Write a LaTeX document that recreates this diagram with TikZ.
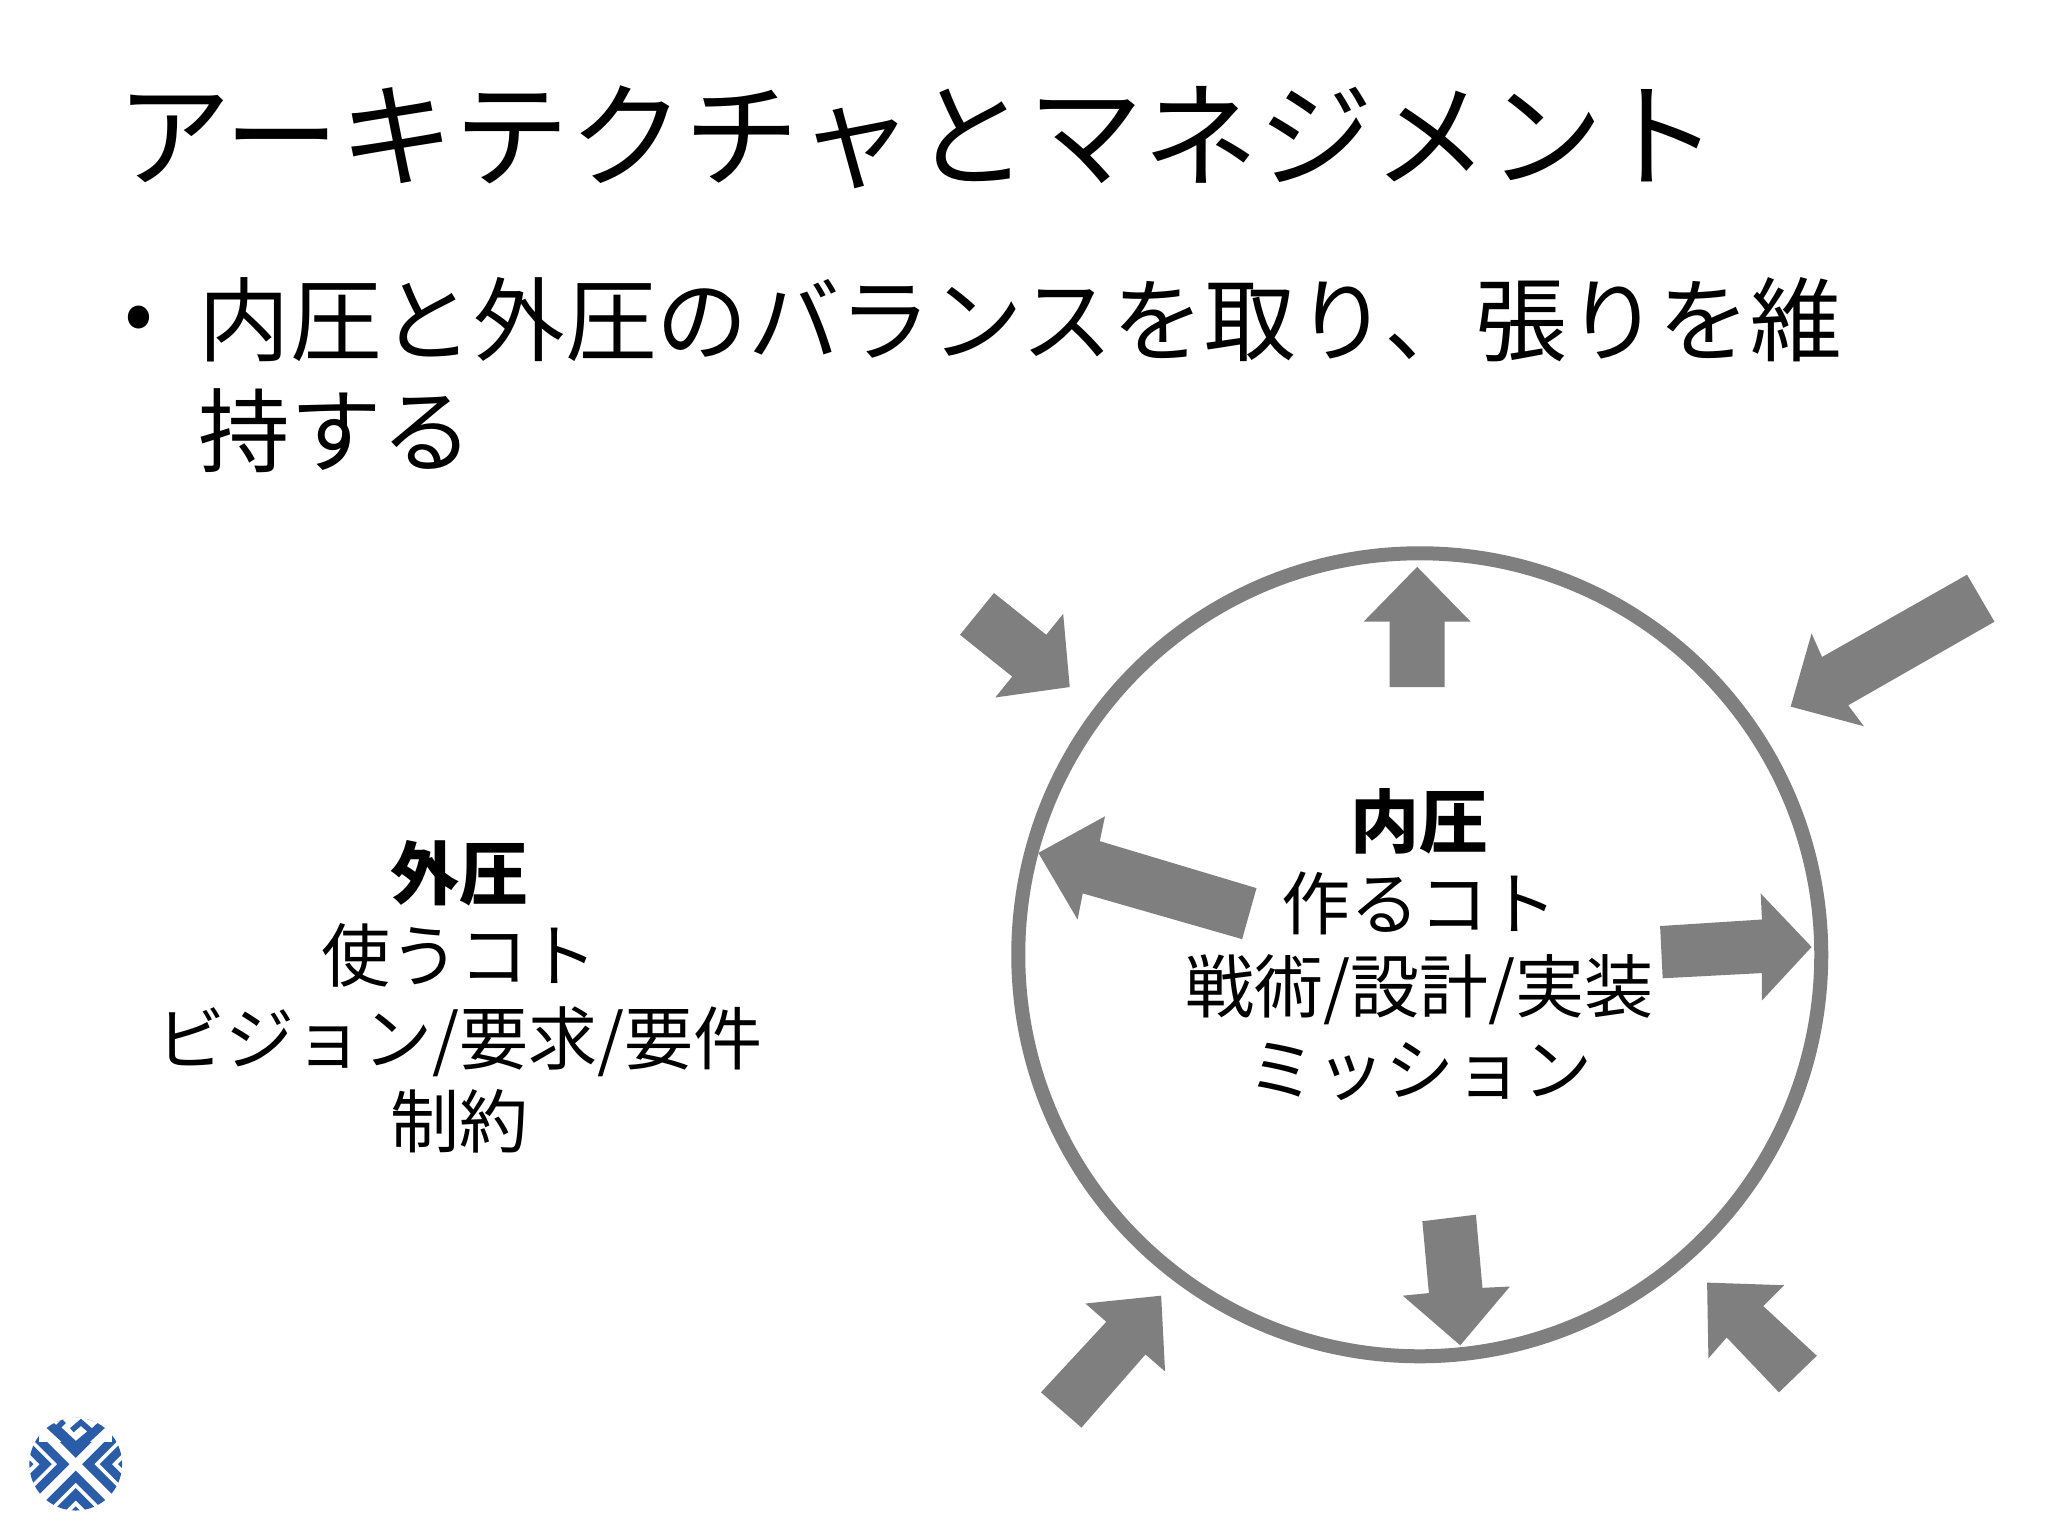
\documentclass[tikz,border=0pt]{standalone}
\usepackage{fontspec}
\setmainfont{Noto Sans CJK JP}
\definecolor{arrowgray}{HTML}{7F7F7F}
\definecolor{logoblue}{HTML}{2B5CA8}
\tikzset{
  pressarrow/.style={fill=arrowgray,draw=none},
  ring/.style={circle,draw=arrowgray,line width=14pt,minimum size=803pt,inner sep=0pt},
  titletext/.style={anchor=west,inner sep=0pt,font=\fontsize{115}{115}\selectfont},
  bodytext/.style={anchor=north west,inner sep=0pt,align=left,font=\fontsize{91.6}{111}\selectfont},
  bullettext/.style={inner sep=0pt,font=\fontsize{85}{85}\selectfont},
  presstext/.style={align=center,inner sep=0pt,font=\fontsize{69}{82.6}\selectfont},
  logoband/.style={draw=logoblue,line width=8.6pt,miter limit=10,line cap=butt}
}
\begin{document}
\begin{tikzpicture}[x=1.30612pt,y=-1.30612pt]
\useasboundingbox[fill=white] (0,0) rectangle (1568,1176);
\node[titletext] (title) at (89,105) {アーキテクチャとマネジメント};
\node[bullettext] (bullet) at (106,248) {•};
\node[bodytext] (body) at (152,212) {内圧と外圧のバランスを取り、張りを維\\持する};
\node[ring] (circ) at (1087,731) {};
\node[presstext] (outer) at (352,763) {\textbf{外圧}\\使うコト\\ビジョン/要求/要件\\制約};
\node[presstext] (inner) at (1087,723) {\textbf{内圧}\\作るコト\\戦術/設計/実装\\ミッション};
% arrows
\fill[pressarrow] (761,454)--(801,486)--(814,470)--(819,526)--(762,534)--(775,518)--(735,486)--cycle;
\fill[pressarrow] (1085,434)--(1126,476)--(1106,476)--(1106,526)--(1064,526)--(1064,476)--(1044,476)--cycle;
\fill[pressarrow] (1506,440)--(1527,476)--(1415,540)--(1427,556)--(1371,541)--(1387,485)--(1395,503)--cycle;
\fill[pressarrow] (795,653)--(846,625)--(842,644)--(962,680)--(951,719)--(829,684)--(825,704)--cycle;
\fill[pressarrow] (1387,725)--(1348,684)--(1349,704)--(1271,709)--(1273,749)--(1349,745)--(1349,766)--cycle;
\fill[pressarrow] (1118,1030)--(1156,985)--(1135,986)--(1130,930)--(1089,935)--(1094,990)--(1074,992)--cycle;
\fill[pressarrow] (889,992)--(831,998)--(847,1012)--(797,1066)--(828,1093)--(877,1037)--(892,1050)--cycle;
\fill[pressarrow] (1307,982)--(1366,984)--(1350,1000)--(1391,1038)--(1362,1066)--(1322,1024)--(1308,1040)--cycle;
% logo
\begin{scope}
\clip (58,1121) circle (35.5);
\foreach \a in {0,90,180,270}{
  \begin{scope}[shift={(58,1121)},rotate=\a]
    \foreach \d in {9.5,23,37}{
      \draw[logoband] (-50,\d+50)--(0,\d)--(50,\d+50);
    }
  \end{scope}
}
\fill[white] (30,1085) rectangle (86,1104);
\draw[logoband] (37,1090)--(58,1109.5)--(79,1090);
\draw[logoband,line width=5.5pt] (49,1088)--(44,1093)--(58,1106)--(70,1096)--(62,1089)--(55,1095);
\end{scope}
\end{tikzpicture}
\end{document}
